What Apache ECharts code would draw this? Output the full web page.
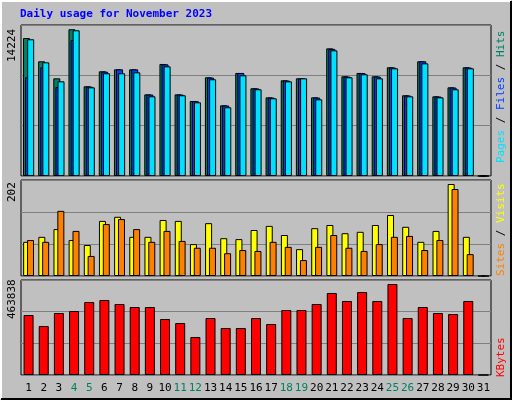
<!DOCTYPE html>
<html><head><meta charset="utf-8">
<script src="https://cdn.jsdelivr.net/npm/echarts@6/dist/echarts.min.js"></script>
<style>html,body{margin:0;padding:0;background:#c0c0c0}#c{width:512px;height:400px}</style>
</head><body><div id="c"></div>
<script>
const days = Array.from({length:31},(_,i)=>String(i+1));
const weekendDays = ['4','5','11','12','18','19','25','26'];
const hits  = [13350,11100,9450,14200,8680,10130,10320,10320,7900,10840,7900,7260,9550,6840,9970,8490,7610,9260,9450,7610,12350,9650,9970,9650,10520,7810,11100,7710,8580,10520,0];
const files = [9550,10520,8610,13160,8650,10100,10320,10320,7880,10800,7880,7240,9520,6820,9970,8470,7590,9240,9450,7590,12300,9620,9950,9620,10500,7790,11100,7690,8560,10500,0];
const pages = [13230,11000,9160,14100,8580,9940,9940,10030,7710,10610,7810,7130,9360,6650,9740,8390,7520,9160,9450,7420,12160,9550,9840,9450,10420,7710,10900,7610,8390,10420,0];
const visits= [75,86,103,79,68,121,130,86,86,123,121,70,116,83,81,101,110,90,59,105,112,94,97,112,134,108,75,99,202,86,0];
const sites = [79,75,143,99,44,114,125,103,75,99,77,62,62,50,57,55,75,64,35,64,90,62,55,70,86,88,57,79,191,48,0];
const kbytes= [305800,249800,316000,326200,372100,382300,361900,346600,346600,285400,265000,193700,290500,239600,239600,290500,260000,331300,331300,361900,418000,377200,423100,377200,463838,290500,346600,316000,310900,377200,0];
const maxLabels = ['14224','202','463838'];

const chart = echarts.init(document.getElementById('c'));
const L=21, R=21;
const grids=[{top:25,height:151},{top:180,height:96},{top:280,height:95}];
const maxes=[14224*151/147, 202*96/92, 463838*95/91];
const bs={borderColor:'#000',borderWidth:1};
function yAx(i){return {gridIndex:i,min:0,max:maxes[i],interval:maxes[i]/3,axisLabel:{show:false},axisLine:{show:false},axisTick:{show:false},splitLine:{lineStyle:{color:'#808080',width:1}}};}
function xAx(i){return {gridIndex:i,type:'category',data:days,axisTick:{show:false},axisLine:{show:false},
  axisLabel:{show:i===2,interval:0,margin:8,fontFamily:'DejaVu Sans Mono',fontSize:11,color:(v)=>weekendDays.includes(v)?'#00805F':'#000'}};}
chart.setOption({
  animation:false,backgroundColor:'#c0c0c0',
  grid:grids.map(g=>({left:L,right:R,top:g.top,height:g.height,show:true,backgroundColor:'#c0c0c0',borderColor:'#000',borderWidth:1})),
  xAxis:[xAx(0),xAx(1),xAx(2)],
  yAxis:[yAx(0),yAx(1),yAx(2)],
  series:[
    {type:'bar',xAxisIndex:0,yAxisIndex:0,data:hits,barWidth:7,barGap:'-70%',itemStyle:Object.assign({color:'#008060'},bs)},
    {type:'bar',xAxisIndex:0,yAxisIndex:0,data:files,barWidth:7,barGap:'-70%',itemStyle:Object.assign({color:'#0040FF'},bs)},
    {type:'bar',xAxisIndex:0,yAxisIndex:0,data:pages,barWidth:7,barGap:'-70%',itemStyle:Object.assign({color:'#00E0FF'},bs)},
    {type:'bar',xAxisIndex:1,yAxisIndex:1,data:visits,barWidth:7,barGap:'-45%',itemStyle:Object.assign({color:'#FFFF00'},bs)},
    {type:'bar',xAxisIndex:1,yAxisIndex:1,data:sites,barWidth:7,barGap:'-45%',itemStyle:Object.assign({color:'#FF8000'},bs)},
    {type:'bar',xAxisIndex:2,yAxisIndex:2,data:kbytes,barWidth:10,itemStyle:Object.assign({color:'#FF0000'},bs)}
  ],
  graphic:[
    {type:'polyline',shape:{points:[[1,399],[1,1],[511,1]]},style:{stroke:'#fff',lineWidth:2,fill:null}},
    {type:'polyline',shape:{points:[[1,399],[511,399],[511,1]]},style:{stroke:'#000',lineWidth:2,fill:null}},
    {type:'text',left:20,top:9,style:{text:'Daily usage for November 2023',font:'bold 11px "DejaVu Sans Mono"',fill:'#0000FF'}},
    {type:'text',x:7,y:62,rotation:Math.PI/2,style:{text:maxLabels[0],font:'11px "DejaVu Sans Mono"',fill:'#000'}},
    {type:'text',x:7,y:202,rotation:Math.PI/2,style:{text:maxLabels[1],font:'11px "DejaVu Sans Mono"',fill:'#000'}},
    {type:'text',x:7,y:319,rotation:Math.PI/2,style:{text:maxLabels[2],font:'11px "DejaVu Sans Mono"',fill:'#000'}},
    {type:'text',x:496,y:163,rotation:Math.PI/2,style:{text:'{a|Pages} / {b|Files} / {c|Hits}',font:'11px "DejaVu Sans Mono"',rich:{a:{fill:'#00E0FF',font:'11px "DejaVu Sans Mono"'},b:{fill:'#0040FF',font:'11px "DejaVu Sans Mono"'},c:{fill:'#008060',font:'11px "DejaVu Sans Mono"'}},fill:'#000'}},
    {type:'text',x:496,y:276,rotation:Math.PI/2,style:{text:'{a|Sites} / {b|Visits}',font:'11px "DejaVu Sans Mono"',rich:{a:{fill:'#FF8000',font:'11px "DejaVu Sans Mono"'},b:{fill:'#FFFF00',font:'11px "DejaVu Sans Mono"'}},fill:'#000'}},
    {type:'text',x:496,y:377,rotation:Math.PI/2,style:{text:'KBytes',font:'11px "DejaVu Sans Mono"',fill:'#FF0000'}}
  ]
});
</script></body></html>
